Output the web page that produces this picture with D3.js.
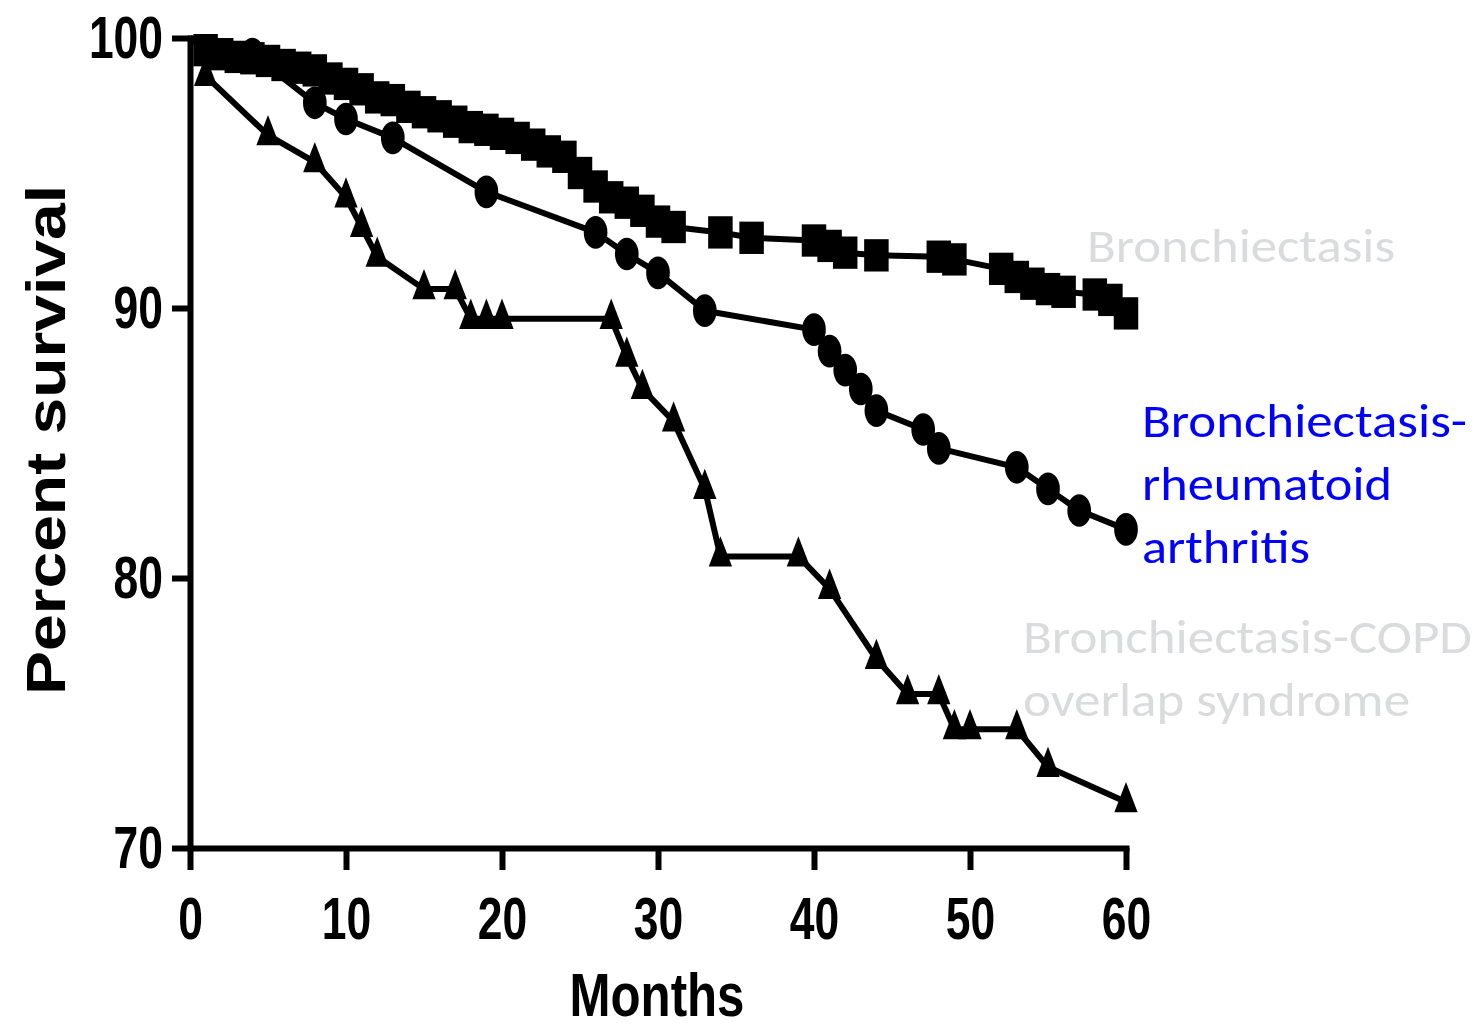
<!DOCTYPE html>
<html>
<head>
<meta charset="utf-8">
<script src="https://cdn.jsdelivr.net/npm/d3@7"></script>
<style>
  body { margin: 0; background: #fff; }
  svg { display: block; }
</style>
</head>
<body>
<svg id="chart" width="1482" height="1033"></svg>
<script>
// 1: DATA
const xTicks = [0, 10, 20, 30, 40, 50, 60];
const yTicks = [70, 80, 90, 100];

// Bronchiectasis (squares)
const bxMonths = [0, 1, 2, 3, 4, 5, 6, 7, 8, 9, 10, 11, 12, 13, 14, 15, 16, 17, 18, 19, 20,
  21, 22, 23, 24, 25, 26, 27, 28, 29, 30, 31, 34, 36, 40, 41, 42, 44, 48, 49, 52, 53, 54, 55, 56, 58, 59, 60];
const bxSurvival = [100, 99.55, 99.4, 99.3, 99.25, 99.15, 99.0, 98.9, 98.8, 98.5, 98.3, 98.1, 97.8, 97.7, 97.45, 97.25,
  97.1, 96.9, 96.7, 96.6, 96.45, 96.3, 96.05, 95.8, 95.6, 95.0, 94.5, 94.1, 93.9, 93.6, 93.2, 93.0,
  92.8, 92.6, 92.5, 92.3, 92.05, 91.95, 91.9, 91.8, 91.45, 91.15, 90.9, 90.7, 90.6, 90.5, 90.3, 89.8];

// Bronchiectasis-rheumatoid arthritis (circles)
const raMonths = [0, 4, 8, 10, 13, 19, 26, 28, 30, 33, 40, 41, 42, 43, 44, 47, 48, 53, 55, 57, 60];
const raSurvival = [100, 99.4, 97.6, 97.0, 96.3, 94.3, 92.8, 92.0, 91.3, 89.9, 89.2, 88.4, 87.7, 87.0, 86.2,
  85.5, 84.8, 84.1, 83.3, 82.5, 81.8];

// Bronchiectasis-COPD overlap syndrome (triangles)
const copdMonths = [1, 5, 8, 10, 11, 12, 15, 17, 18, 19, 20, 27, 28, 29, 31, 33, 34, 39, 41, 44, 46, 48, 49, 50, 53, 55, 60];
const copdSurvival = [98.6, 96.4, 95.4, 94.1, 93.0, 91.9, 90.7, 90.7, 89.6, 89.6, 89.6, 89.6, 88.2, 87.0, 85.8,
  83.3, 80.8, 80.8, 79.6, 77.0, 75.7, 75.7, 74.4, 74.4, 74.4, 73.0, 71.7];

const seriesNames = ["Bronchiectasis", "Bronchiectasis-rheumatoid arthritis", "Bronchiectasis-COPD overlap syndrome"];

// 2: SCALES
const svg = d3.select("#chart");
const xScale = d3.scaleLinear().domain([0, 60]).range([190, 1126]);
const yScale = d3.scaleLinear().domain([70, 100]).range([848, 38]);

const axisFont = "'Liberation Sans', Arial, sans-serif";
const squeeze = 0.74;

function squeezeText(sel) {
  sel.each(function() {
    const w = this.getComputedTextLength();
    d3.select(this).attr("textLength", w * squeeze).attr("lengthAdjust", "spacingAndGlyphs");
  });
}

// 3: AXES
const xAxis = svg.append("g")
  .attr("transform", `translate(0,${yScale(70)})`)
  .call(d3.axisBottom(xScale).tickValues(xTicks).tickSize(22).tickSizeOuter(0).tickPadding(26));

const yAxis = svg.append("g")
  .attr("transform", `translate(${xScale(0)},0)`)
  .call(d3.axisLeft(yScale).tickValues(yTicks).tickSize(18).tickSizeOuter(0).tickPadding(9));

[xAxis, yAxis].forEach(ax => {
  ax.select(".domain").attr("stroke", "#000").attr("stroke-width", 6).attr("stroke-linecap", "square");
  ax.selectAll(".tick line").attr("stroke", "#000").attr("stroke-width", 6);
  ax.selectAll(".tick text")
    .attr("fill", "#000")
    .style("font-family", axisFont)
    .style("font-weight", "bold")
    .style("font-size", "60px")
    .call(squeezeText);
});

// 4: LINES AND MARKERS
const line = d3.line().x(d => xScale(d[0])).y(d => yScale(d[1]));

const series = [
  { name: seriesNames[0], pts: d3.zip(bxMonths, bxSurvival), sym: d3.symbolSquare, size: 600, stretch: 1.32, markFrom: 1 },
  { name: seriesNames[1], pts: d3.zip(raMonths, raSurvival), sym: d3.symbolCircle, size: 440, stretch: 1.38, markFrom: 1 },
  { name: seriesNames[2], pts: d3.zip(copdMonths, copdSurvival), sym: d3.symbolTriangle, size: 235, stretch: 1.5, markFrom: 0 }
];

series.forEach(s => {
  svg.append("path")
    .datum(s.pts)
    .attr("fill", "none")
    .attr("stroke", "#000")
    .attr("stroke-width", 6)
    .attr("stroke-linejoin", "round")
    .attr("d", line);

  svg.append("g").selectAll("path")
    .data(s.pts.slice(s.markFrom))
    .enter()
    .append("path")
    .attr("d", d3.symbol().type(s.sym).size(s.size))
    .attr("transform", d => `translate(${xScale(d[0])},${yScale(d[1])}) scale(1,${s.stretch})`)
    .attr("fill", "#000");
});

// 5: AXIS TITLES
svg.append("text")
  .attr("x", 657)
  .attr("y", 1016)
  .attr("text-anchor", "middle")
  .style("font-family", axisFont)
  .style("font-weight", "bold")
  .style("font-size", "62px")
  .attr("textLength", 175)
  .attr("lengthAdjust", "spacingAndGlyphs")
  .text("Months");

svg.append("text")
  .attr("transform", "translate(65,440) rotate(-90)")
  .attr("text-anchor", "middle")
  .style("font-family", axisFont)
  .style("font-weight", "bold")
  .style("font-size", "56px")
  .attr("textLength", 510)
  .attr("lengthAdjust", "spacingAndGlyphs")
  .text("Percent survival");

// 6: SERIES LABELS
const labelFont = "Carlito, Lato, 'Open Sans', sans-serif";
const labels = [
  { lines: ["Bronchiectasis"], x: 1087, y: 262, widths: [308], color: "#dadbdd" },
  { lines: ["Bronchiectasis-", "rheumatoid", "arthritis"], x: 1142, y: 437, widths: [325, 250, 168], color: "#0000ff" },
  { lines: ["Bronchiectasis-COPD", "overlap syndrome"], x: 1023, y: 653, widths: [449, 387], color: "#dadbdd" }
];

labels.forEach(l => {
  l.lines.forEach((t, i) => {
    svg.append("text")
      .attr("x", l.x)
      .attr("y", l.y + i * 63)
      .attr("fill", l.color)
      .style("font-family", labelFont)
      .style("font-size", "48px")
      .attr("textLength", l.widths[i])
      .attr("lengthAdjust", "spacingAndGlyphs")
      .text(t);
  });
});
</script>
</body>
</html>
